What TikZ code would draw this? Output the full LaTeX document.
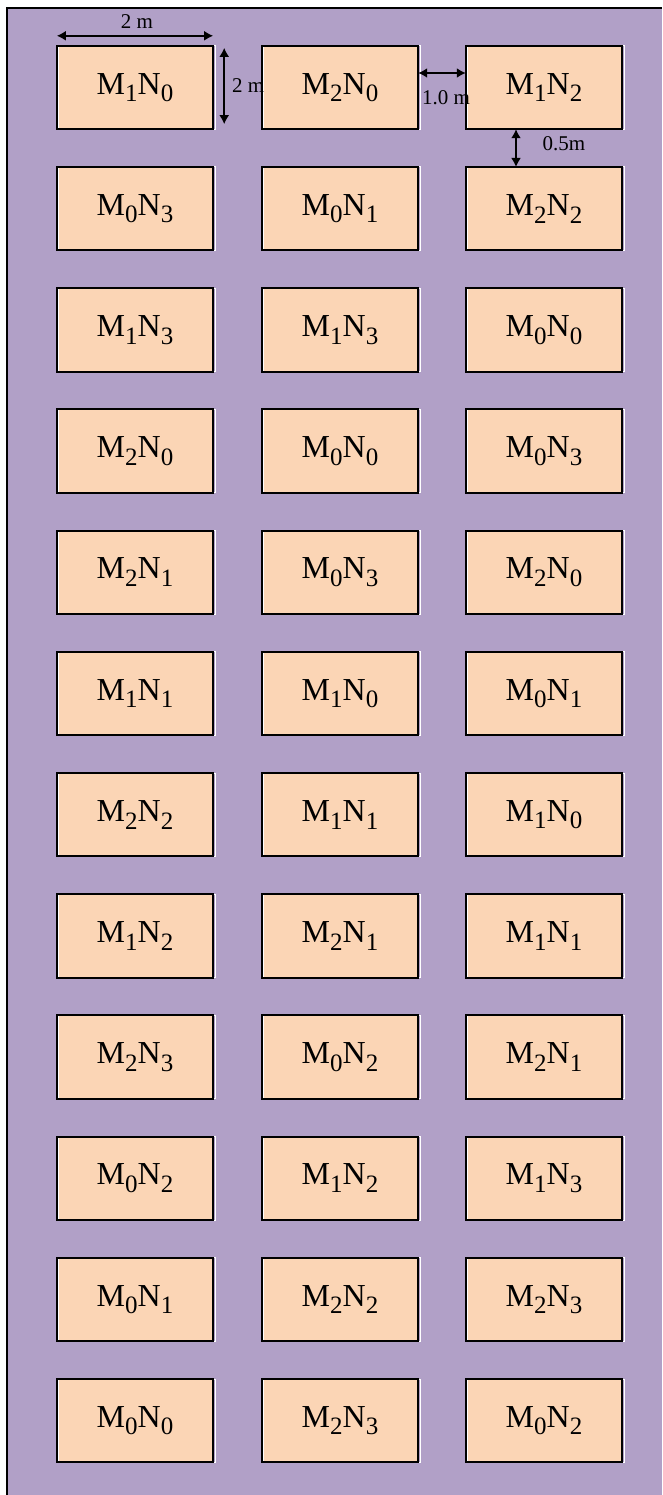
\documentclass[tikz,border=0pt]{standalone}
\usepackage{fontspec}
\setmainfont{Liberation Serif}
\usetikzlibrary{arrows.meta}
\definecolor{plotbg}{HTML}{B1A0C7}
\definecolor{peach}{HTML}{FBD5B5}
\newcommand\sbx[1]{\raisebox{-0.24em}{\fontsize{25}{25}\selectfont #1}}
\newcommand\plot[2]{M\sbx{#1}N\sbx{#2}}
\tikzset{
  plotbox/.style={fill=peach, minimum width=156pt, minimum height=83pt, inner sep=0pt,
    font=\fontsize{32}{34}\selectfont},
  dimarrow/.style={{Latex[length=9pt,width=10pt]}-{Latex[length=9pt,width=10pt]}, line width=2pt, black},
  dimlabel/.style={font=\fontsize{21}{23}\selectfont, inner sep=0pt}
}
\begin{document}
\begin{tikzpicture}[x=1pt,y=-1pt]
\useasboundingbox (0,0) rectangle (662,1495);
\fill[white] (0,0) rectangle (662,1495);
\fill[plotbg] (7,8) rectangle (662,1495);
\draw[line width=2.5pt] (7,1495) -- (7,8) -- (662,8);
\foreach \r/\a/\b/\c in {1/{1}{0}/{2}{0}/{1}{2},
  2/{0}{3}/{0}{1}/{2}{2},
  3/{1}{3}/{1}{3}/{0}{0},
  4/{2}{0}/{0}{0}/{0}{3},
  5/{2}{1}/{0}{3}/{2}{0},
  6/{1}{1}/{1}{0}/{0}{1},
  7/{2}{2}/{1}{1}/{1}{0},
  8/{1}{2}/{2}{1}/{1}{1},
  9/{2}{3}/{0}{2}/{2}{1},
  10/{0}{2}/{1}{2}/{1}{3},
  11/{0}{1}/{2}{2}/{2}{3},
  12/{0}{0}/{2}{3}/{0}{2}}{
  \pgfmathsetmacro\yy{87.5+121.2*(\r-1)}
  \node[plotbox] (b-\r-1) at (135,\yy) {\expandafter\plot\a};
  \node[plotbox] (b-\r-2) at (340,\yy) {\expandafter\plot\b};
  \node[plotbox] (b-\r-3) at (544,\yy) {\expandafter\plot\c};
  \foreach \k in {1,2,3}{
    \draw[white, line width=1pt] ([xshift=2pt]b-\r-\k.north west) rectangle ([xshift=2pt]b-\r-\k.south east);
    \draw[black, line width=2pt] (b-\r-\k.north west) rectangle (b-\r-\k.south east);
  }
}
% width dimension
\coordinate (wl) at ([yshift=10pt]b-1-1.north west);
\coordinate (wr) at ([yshift=10pt]b-1-1.north east);
\draw[dimarrow] (wl) -- (wr);
\node[dimlabel] (wlab) at (137,22) {2 m};
% height dimension
\coordinate (ht) at ([xshift=11pt,yshift=-2pt]b-1-1.north east);
\coordinate (hb) at ([xshift=11pt,yshift=5pt]b-1-1.south east);
\draw[dimarrow] (ht) -- (hb);
\node[dimlabel, anchor=west] (hlab) at (232,86) {2 m};
% gap between columns
\coordinate (gl) at (b-1-2.east |- 0,73);
\coordinate (gr) at (b-1-3.west |- 0,73);
\draw[dimarrow] (gl) -- (gr);
\node[dimlabel] (glab) at (446,98) {1.0 m};
% gap between rows
\draw[dimarrow] (b-1-3.south -| 516,0) -- (b-2-3.north -| 516,0);
\node[dimlabel] (rlab) at (564,144) {0.5m};
\end{tikzpicture}
\end{document}
